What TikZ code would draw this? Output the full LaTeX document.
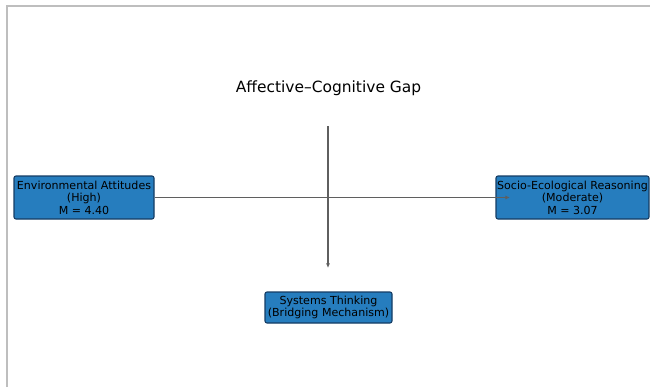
\documentclass[tikz,border=0pt]{standalone}
\usepackage{fontspec}
\setmainfont{DejaVu Sans}
\usetikzlibrary{arrows.meta}
\definecolor{boxblue}{RGB}{38,125,190}
\definecolor{boxedge}{RGB}{20,60,100}
\definecolor{framegray}{RGB}{190,190,190}
\definecolor{linkgray}{RGB}{95,95,95}
\begin{document}
\begin{tikzpicture}[x=0.75pt,y=-0.75pt,
  factor/.style={draw=boxedge,fill=boxblue,line width=0.8pt,rounded corners=1.5pt,
    align=center,font=\fontsize{8.3pt}{9.4pt}\selectfont,inner sep=0pt,text=black},
  link/.style={draw=linkgray,line width=1.1pt,-{Latex[length=3.5pt,width=3pt]}}]
\useasboundingbox (0,0) rectangle (650,387);
\fill[white] (0,0) rectangle (650,387);
% frame
\draw[framegray,line width=1.5pt] (7,387) -- (7,6) -- (650,6);
% title
\node[font=\fontsize{11.6pt}{13pt}\selectfont] (title) at (328.5,88) {Affective–Cognitive Gap};
% boxes
\node[factor,minimum width=140*0.75pt,minimum height=43*0.75pt] (env) at (84,197.5)
  {Environmental Attitudes\\(High)\\M = 4.40};
\node[factor,minimum width=153*0.75pt,minimum height=43*0.75pt] (seco) at (572.5,197.5)
  {Socio-Ecological Reasoning\\(Moderate)\\M = 3.07};
\node[factor,minimum width=127*0.75pt,minimum height=31*0.75pt] (sys) at (328.5,307.5)
  {Systems Thinking\\(Bridging Mechanism)};
% connectors
\coordinate (vtop) at (328,126);
\coordinate (vend) at (328,268);
\coordinate (hend) at (510,197.5);
\draw[link] (env.east) -- (hend);
\draw[link] (vtop) -- (vend);
\end{tikzpicture}
\end{document}
